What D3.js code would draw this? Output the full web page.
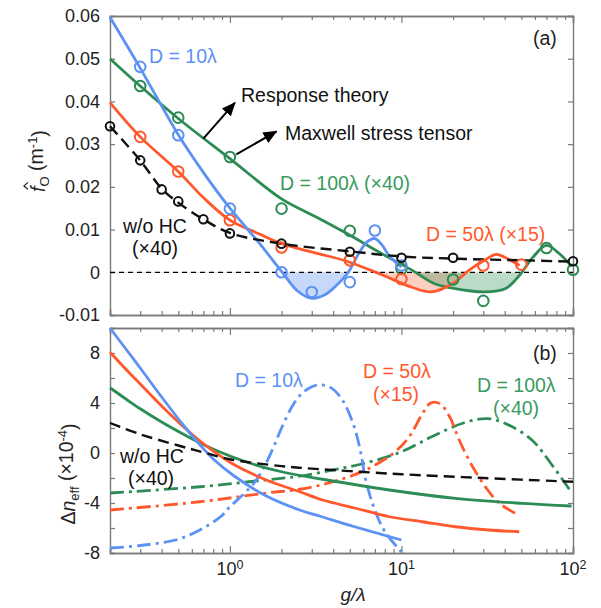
<!DOCTYPE html>
<html>
<head>
<meta charset="utf-8">
<script src="https://cdn.jsdelivr.net/npm/d3@7/dist/d3.min.js"></script>
<style>
  body { margin: 0; background: #fff; }
  text { font-family: "Liberation Sans", Arial, sans-serif; fill: #222; }
</style>
</head>
<body>
<svg class="chart"></svg>
<script>
// ---- panel (a): f_O vs g/lambda ----
const topD10 = [[0.2,0.0597],[0.3,0.0478],[0.5,0.0322],[0.7,0.0234],[1,0.0150],[1.5,0.0066],[2,0.0002],
  [2.5,-0.0045],[3,-0.0061],[3.6,-0.0052],[4.2,-0.0030],[4.9,0.0000],[5.6,0.0042],[6.3,0.0071],[7,0.0079],
  [7.7,0.0064],[8.5,0.0038],[10,0.0012]];
const topD50 = [[0.2,0.0397],[0.3,0.0317],[0.5,0.0236],[0.7,0.0175],[1,0.0122],[1.5,0.0089],[2,0.0067],
  [3.1,0.0046],[4.7,0.0027],[7.5,-0.0004],[11.5,-0.0035],[15,-0.0046],[19.8,-0.0027],[24.8,0.0005],
  [30.5,0.0028],[35.6,0.0042],[40.5,0.0034],[48.8,0.0016]];
const topD100 = [[0.2,0.0500],[0.3,0.0436],[0.5,0.0360],[1,0.0266],[2,0.0172],[3.1,0.0132],[4.7,0.0093],
  [7.5,0.0046],[11.5,0.0005],[15.6,-0.0027],[19.8,-0.0037],[30.5,-0.0046],[40.5,-0.0038],[48.8,-0.0007],
  [58.6,0.0036],[70,0.0063],[83,0.0044],[98,0.0014]];
const topNoHC = [[0.2,0.0342],[0.3,0.0262],[0.4,0.0196],[0.5,0.0163],[0.7,0.0124],[1,0.0092],[2,0.0067],
  [5,0.0049],[10,0.0037],[20,0.0032],[50,0.0028],[100,0.0025]];

// markers (Maxwell stress tensor)
const mkD10 = [[0.3,0.0481],[0.5,0.0321],[1,0.0149],[2,0.0000],[3,-0.0046],[5,-0.0023],[7,0.0098],[10,0.0016]];
const mkD50 = [[0.3,0.0317],[0.5,0.0236],[1,0.0122],[2,0.0058],[5,0.0028],[10,-0.0016],[30,0.0016],[50,0.0018]];
const mkD100 = [[0.3,0.0436],[0.5,0.0362],[1,0.0270],[2,0.0149],[5,0.0097],[10,0.0008],[20,-0.0017],
  [30,-0.0067],[70,0.0057],[100,0.0006]];
const mkNoHC = [[0.2,0.0342],[0.3,0.0262],[0.4,0.0194],[0.5,0.0166],[0.7,0.0124],[1,0.0091],[2,0.0067],
  [5,0.0048],[10,0.0034],[20,0.0034],[100,0.0026]];

// ---- panel (b): delta n_eff (x1e-4) ----
const botD10 = [[0.2,10],[0.25,8.24],[0.3,6.8],[0.4,4.48],[0.546,2.08],[0.67,0.64],[0.8,-0.48],[1.04,-1.76],
  [1.63,-3.44],[2.55,-4.56],[3.47,-5.12],[5.4,-5.92],[10,-6.96]];
const botD50 = [[0.2,8.06],[0.25,6.64],[0.3,5.52],[0.4,3.76],[0.546,2.0],[0.67,0.96],[0.8,0.16],[1.04,-0.88],
  [1.63,-2.16],[2.55,-3.1],[3.47,-3.76],[5.4,-4.42],[8.5,-5.1],[13.2,-5.5],[20.6,-5.9],[32.3,-6.16],[48.6,-6.3]];
const botD100 = [[0.2,5.22],[0.25,4.28],[0.3,3.54],[0.4,2.48],[0.546,1.44],[0.67,0.8],[0.834,0.2],[1.3,-0.8],
  [2.03,-1.52],[3.47,-2.1],[8.5,-2.96],[20.6,-3.63],[50.6,-4.03],[98,-4.24]];
const botNoHC = [[0.2,2.4],[0.3,1.5],[0.5,0.6],[0.7,0.05],[1,-0.5],[2,-1.05],[3,-1.25],[5,-1.45],
  [10,-1.7],[30,-2.0],[100,-2.3]];
const ddD10 = [[0.2,-7.6],[0.3,-7.4],[0.5,-6.9],[0.7,-6.0],[0.9,-5.0],[1.0,-4.3],[1.2,-3.3],[1.4,-2.3],
  [1.6,-1.0],[1.8,0.5],[2.0,2.0],[2.3,3.7],[2.6,4.7],[3.0,5.3],[3.3,5.45],[3.8,5.3],[4.5,4.3],[5.3,2.1],
  [5.8,0.0],[6.2,-2.2],[7.1,-4.8],[8.1,-6.4],[10,-7.9]];
const ddD50 = [[0.2,-4.56],[0.67,-3.9],[1.63,-3.2],[2.55,-2.9],[4,-2.3],[6.2,-1.35],[9,0],[11.1,1.3],
  [13.2,3.1],[14.8,4.0],[16.7,3.95],[19.1,2.9],[21.6,1.1],[26,-1.1],[31.6,-2.9],[37,-4.0],[48.6,-5.0]];
const ddD100 = [[0.2,-3.2],[0.67,-2.7],[1.63,-2.15],[2.55,-1.85],[4,-1.35],[6.2,-0.8],[10,0.1],[15,1.3],
  [23,2.4],[32,2.75],[42,2.25],[58,1.0],[74,-0.8],[98,-3.15]];

const xDomain = [0.2, 100];
const yTopDomain = [-0.01, 0.06];
const yBotDomain = [-8, 10];
const yTopTicks = [-0.01, 0, 0.01, 0.02, 0.03, 0.04, 0.05, 0.06];
const yBotTicks = [-8, -6, -4, -2, 0, 2, 4, 6, 8, 10];
const yBotLabels = [-8, -4, 0, 4, 8];
const xLabels = [[1, '0'], [10, '1'], [100, '2']];
const arrowsTop = [[[0.70, 0.0313], [1.07, 0.0397]], [[1.09, 0.0276], [1.87, 0.0330]]];

const config = {
  svg: { width: 601, height: 608 },
  left: 110, right: 573,
  top: { y0: 16, y1: 315 },
  bot: { y0: 328, y1: 553 }
};
const col = { blue: '#5c92f3', orange: '#ff582d', green: '#2d8c55', black: '#111' };
const smooth = d3.curveCatmullRom.alpha(0.5);

function drawChart() {
  let svg = d3.select('body').select('.chart')
    .attr('width', config.svg.width)
    .attr('height', config.svg.height);

  let x = d3.scaleLog().domain(xDomain).range([config.left, config.right]);
  let yT = d3.scaleLinear().domain(yTopDomain).range([config.top.y1, config.top.y0]);
  let yB = d3.scaleLinear().domain(yBotDomain).range([config.bot.y1, config.bot.y0]);

  let defs = svg.append('defs');
  defs.append('marker')
    .attr('id', 'arrow').attr('markerUnits', 'userSpaceOnUse')
    .attr('markerWidth', 14).attr('markerHeight', 12)
    .attr('refX', 13).attr('refY', 6).attr('orient', 'auto')
    .append('path').attr('d', 'M0,0 L14,6 L0,12 Z').style('fill', '#000');
  defs.append('clipPath').attr('id', 'belowZero')
    .append('rect')
    .attr('x', config.left).attr('width', config.right - config.left)
    .attr('y', yT(0)).attr('height', config.top.y1 - yT(0));

  // ---- fills in panel (a) ----
  let area = d3.area().x(d => x(d[0])).y0(yT(0)).y1(d => yT(d[1])).curve(smooth);
  let fills = svg.append('g').attr('clip-path', 'url(#belowZero)');
  [[topD10, '#5c92f3', 0.35], [topD50, '#ff6a40', 0.32], [topD100, '#2d8c55', 0.32]].forEach(f => {
    fills.append('path').attr('d', area(f[0])).style('fill', f[1]).style('opacity', f[2]);
  });

  // frames and axes
  function frame(y, ticks, labels, fmt) {
    let y0 = y.range()[1], y1 = y.range()[0];
    let minorX = x.ticks().filter(v => Math.abs(Math.log10(v) % 1) > 1e-6);
    let majorX = [1, 10, 100];
    let gs = [];
    gs.push(svg.append('g').attr('transform', `translate(0,${y1})`).call(d3.axisBottom(x).tickValues(minorX).tickSize(-4).tickFormat('')));
    gs.push(svg.append('g').attr('transform', `translate(0,${y1})`).call(d3.axisBottom(x).tickValues(majorX).tickSize(-7).tickFormat('')));
    gs.push(svg.append('g').attr('transform', `translate(0,${y0})`).call(d3.axisTop(x).tickValues(minorX).tickSize(-4).tickFormat('')));
    gs.push(svg.append('g').attr('transform', `translate(0,${y0})`).call(d3.axisTop(x).tickValues(majorX).tickSize(-7).tickFormat('')));
    gs.push(svg.append('g').attr('transform', `translate(${config.right},0)`).call(d3.axisRight(y).tickValues(ticks).tickSize(-5).tickFormat('')));
    gs.push(svg.append('g').attr('transform', `translate(${config.left},0)`)
      .call(d3.axisLeft(y).tickValues(ticks).tickSize(-5).tickPadding(10)
        .tickFormat(d => labels.includes(d) ? fmt(d) : '')));
    gs.forEach(g => {
      g.select('.domain').style('stroke', '#7a7a7a').style('stroke-width', 1.4);
      g.selectAll('.tick line').style('stroke', '#7a7a7a').style('stroke-width', 1.2);
      g.selectAll('.tick text').style('font-size', '18px').style('fill', '#222')
        .style('font-family', '"Liberation Sans", Arial, sans-serif');
    });
  }
  frame(yT, yTopTicks, yTopTicks, d => d === 0 ? '0' : d3.format('.2f')(d).replace('−', '-'));
  frame(yB, yBotTicks, yBotLabels, d => String(d));

  // zero line
  svg.append('line')
    .attr('x1', config.left).attr('x2', config.right)
    .attr('y1', yT(0)).attr('y2', yT(0))
    .style('stroke', '#000').style('stroke-width', 1.2).style('stroke-dasharray', '5,4');

  // ---- curves ----
  let lineT = d3.line().x(d => x(d[0])).y(d => yT(d[1])).curve(smooth);
  let lineB = d3.line().x(d => x(d[0])).y(d => yB(d[1])).curve(smooth);

  let curves = [
    [lineT, topD100, col.green, null], [lineT, topD50, col.orange, null],
    [lineT, topD10, col.blue, null], [lineT, topNoHC, col.black, '11,6'],
    [lineB, ddD100, col.green, '14,5,3,5'], [lineB, ddD50, col.orange, '14,5,3,5'],
    [lineB, ddD10, col.blue, '14,5,3,5'],
    [lineB, botD100, col.green, null], [lineB, botD50, col.orange, null],
    [lineB, botD10, col.blue, null], [lineB, botNoHC, col.black, '11,6']
  ];
  svg.selectAll('curves')
    .data(curves)
    .enter().append('path')
    .attr('d', d => d[0](d[1]))
    .style('fill', 'none')
    .style('stroke', d => d[2])
    .style('stroke-width', d => d[2] === col.black ? 2.4 : 2.8)
    .style('stroke-dasharray', d => d[3]);

  // markers
  [[mkD100, col.green, 5.3], [mkD50, col.orange, 5.3], [mkD10, col.blue, 5.3], [mkNoHC, col.black, 4.3]].forEach(m => {
    svg.selectAll('mk')
      .data(m[0])
      .enter().append('circle')
      .attr('cx', d => x(d[0]))
      .attr('cy', d => yT(d[1]))
      .attr('r', m[2])
      .style('fill', 'none')
      .style('stroke', m[1])
      .style('stroke-width', 2);
  });

  // arrows
  svg.selectAll('arrows')
    .data(arrowsTop)
    .enter().append('line')
    .attr('x1', d => x(d[0][0])).attr('y1', d => yT(d[0][1]))
    .attr('x2', d => x(d[1][0])).attr('y2', d => yT(d[1][1]))
    .style('stroke', '#000').style('stroke-width', 2)
    .attr('marker-end', 'url(#arrow)');

  // ---- annotations ----
  function label(txt, px, py, color) {
    return svg.append('text').attr('x', px).attr('y', py)
      .style('font-size', '19.5px').style('fill', color).text(txt);
  }
  label('D = 10λ', 149, 63, col.blue);
  label('Response theory', 241, 101.5, '#111');
  label('Maxwell stress tensor', 285, 139.5, '#111');
  label('D = 100λ (×40)', 280, 189.5, '#3a9a60');
  label('D = 50λ (×15)', 426, 241, col.orange);
  label('w/o HC', 123, 233, '#111');
  label('(×40)', 132, 255, '#111');
  label('(a)', 533, 44.5, '#222');

  label('D = 10λ', 235, 386.5, col.blue);
  label('D = 50λ', 363, 378, col.orange);
  label('(×15)', 373, 400.5, col.orange);
  label('D = 100λ', 477, 391.5, '#3a9a60');
  label('(×40)', 493, 415, '#3a9a60');
  label('(b)', 533, 359.5, '#222');
  label('w/o HC', 120, 463, '#111');
  label('(×40)', 128, 485, '#111');

  // x tick labels (10^n)
  xLabels.forEach(l => {
    let t = svg.append('text').attr('x', x(l[0])).attr('y', 575)
      .attr('text-anchor', 'middle').style('font-size', '18px').text('10');
    t.append('tspan').attr('dy', '-0.5em').style('font-size', '12.5px').text(l[1]);
  });

  // axis titles
  svg.append('text').attr('x', 353).attr('y', 601).attr('text-anchor', 'middle')
    .style('font-size', '19px').style('font-style', 'italic').text('g/λ');

  let ylT = svg.append('g').attr('transform', 'translate(45,161) rotate(-90)');
  let tt = ylT.append('text').attr('text-anchor', 'middle').style('font-size', '19.5px');
  tt.append('tspan').style('font-style', 'italic').text('f');
  tt.append('tspan').attr('dy', '0.3em').style('font-size', '13px').text('O');
  tt.append('tspan').attr('dy', '-0.3em').text(' (m');
  tt.append('tspan').attr('dy', '-0.5em').style('font-size', '13px').text('-1');
  tt.append('tspan').attr('dy', '0.5em').text(')');
  // hat over the f
  let p0 = tt.node().getStartPositionOfChar(0);
  ylT.append('path')
    .attr('d', `M${p0.x + 2.5},${p0.y - 17} L${p0.x + 6},${p0.y - 21} L${p0.x + 9.5},${p0.y - 17}`)
    .style('fill', 'none').style('stroke', '#222').style('stroke-width', 1.3);

  let ylB = svg.append('g').attr('transform', 'translate(75,474) rotate(-90)');
  let tb = ylB.append('text').attr('text-anchor', 'middle').style('font-size', '19.5px');
  tb.append('tspan').text('Δ');
  tb.append('tspan').style('font-style', 'italic').text('n');
  tb.append('tspan').attr('dy', '0.3em').style('font-size', '13px').text('eff');
  tb.append('tspan').attr('dy', '-0.3em').text(' (×10');
  tb.append('tspan').attr('dy', '-0.5em').style('font-size', '13px').text('-4');
  tb.append('tspan').attr('dy', '0.5em').text(')');
}

drawChart();
</script>
</body>
</html>
